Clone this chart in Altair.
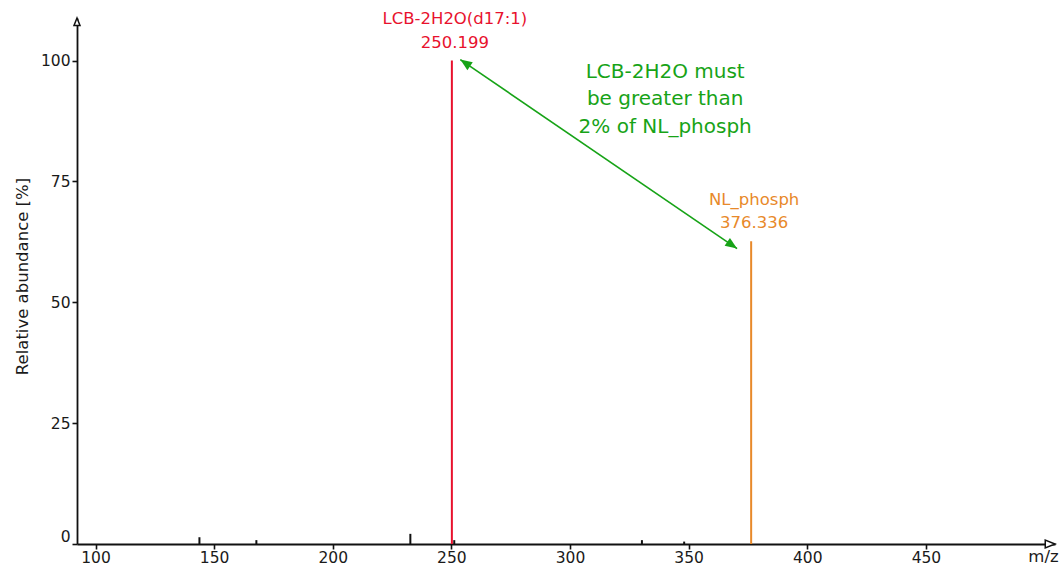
import altair as alt
import pandas as pd

FONT = "DejaVu Sans"

# Fragment peaks (m/z, relative abundance in %)
peak_mz = [143.8, 167.8, 232.7, 250.199, 251.2, 330.3, 348.1, 376.336]
peak_int = [1.4, 0.8, 2.1, 100.0, 0.8, 0.8, 0.5, 62.6]
peak_kind = ["other", "other", "other", "lcb", "other", "other", "other", "nl"]

# Annotated fragments
label_mz = [250.199, 376.336]
label_int = [100.0, 62.6]
label_name = ["LCB-2H2O(d17:1)", "NL_phosph"]
label_kind = ["lcb", "nl"]

kind_domain = ["other", "lcb", "nl"]
kind_colors = ["#111111", "#e8112d", "#e8892a"]

# Rule annotation between the two fragment apexes
rule_start = (253.75, 100.2)
rule_end = (370.4, 61.1)
rule_text = "LCB-2H2O must\nbe greater than\n2% of NL_phosph"
rule_text_pos = (340.1, 97.7)
green = "#17a317"

x_ticks = [100, 150, 200, 250, 300, 350, 400, 450]
y_ticks = [0, 25, 50, 75, 100]
x_domain = [92.2, 504.4]
y_domain = [0, 108.8]

peaks = pd.DataFrame({"mz": peak_mz, "intensity": peak_int, "kind": peak_kind})
labels = pd.DataFrame({
    "mz": label_mz,
    "intensity": label_int,
    "kind": label_kind,
    "name": label_name,
    "value": [f"{m:.3f}" for m in label_mz],
})

x_scale = alt.Scale(domain=x_domain, nice=False, zero=False)
y_scale = alt.Scale(domain=y_domain, nice=False)
color_scale = alt.Scale(domain=kind_domain, range=kind_colors)

x_axis = alt.Axis(
    values=x_ticks, grid=False, title="m/z", labelFlush=False,
    titleX=966, titleY=12, titleAlign="center", titleBaseline="middle",
    labelPadding=1,
)
y_axis = alt.Axis(
    values=y_ticks, grid=False, title="Relative abundance [%]", labelFlush=True,
    titleAngle=270, titleX=-55, titleY=258, titleAlign="center",
    titleBaseline="middle", labelPadding=2,
)

base = alt.Chart(peaks)

sticks = base.mark_rule(strokeWidth=2).encode(
    x=alt.X("mz:Q", scale=x_scale, axis=x_axis),
    y=alt.Y("intensity:Q", scale=y_scale, axis=y_axis),
    y2=alt.datum(0),
    color=alt.Color("kind:N", scale=color_scale, legend=None),
)


def peak_text(field, dy):
    return alt.Chart(labels).mark_text(
        font=FONT, fontSize=16.5, baseline="middle", align="center", dy=dy, dx=3,
    ).encode(
        x=alt.X("mz:Q", scale=x_scale),
        y=alt.Y("intensity:Q", scale=y_scale),
        text=f"{field}:N",
        color=alt.Color("kind:N", scale=color_scale, legend=None),
    )


peak_labels = peak_text("name", -41.5) + peak_text("value", -18)

arrow_df = pd.DataFrame({
    "x": [rule_start[0]], "y": [rule_start[1]],
    "x2": [rule_end[0]], "y2": [rule_end[1]],
})
arrow_line = alt.Chart(arrow_df).mark_rule(color=green, strokeWidth=1.6).encode(
    x=alt.X("x:Q", scale=x_scale),
    y=alt.Y("y:Q", scale=y_scale),
    x2="x2:Q",
    y2="y2:Q",
)

# Arrowhead path with its tip at the origin, pointing up before rotation
head_path = "M0,0 L0.4,1 L-0.4,1 Z"


def head(px, py, angle, size, fill, stroke, stroke_width=0):
    df = pd.DataFrame({"x": [px], "y": [py]})
    return alt.Chart(df).mark_point(
        shape=head_path, size=size, angle=angle, filled=True,
        fill=fill, stroke=stroke, strokeWidth=stroke_width, opacity=1,
    ).encode(
        x=alt.X("x:Q", scale=x_scale),
        y=alt.Y("y:Q", scale=y_scale),
    )


arrow_heads = (
    head(rule_start[0], rule_start[1], 304.3, 560, green, green)
    + head(rule_end[0], rule_end[1], 124.3, 560, green, green)
)

axis_path = "M0,0 L0.4,1 L-0.4,1 Z"


def axis_head(px, py, angle, size):
    df = pd.DataFrame({"x": [px], "y": [py]})
    return alt.Chart(df).mark_point(
        shape=axis_path, size=size, angle=angle, filled=True,
        fill="white", stroke="#111111", strokeWidth=1.5, opacity=1,
    ).encode(
        x=alt.X("x:Q", scale=x_scale),
        y=alt.Y("y:Q", scale=y_scale),
    )


axis_heads = axis_head(x_domain[1], 0, 90, 380) + axis_head(x_domain[0], y_domain[1], 0, 225)

note = alt.Chart(pd.DataFrame({"x": [rule_text_pos[0]], "y": [rule_text_pos[1]],
                               "t": [rule_text]})).mark_text(
    font=FONT, fontSize=20, color=green, align="center", baseline="middle",
    lineBreak="\n", lineHeight=27.5,
).encode(
    x=alt.X("x:Q", scale=x_scale),
    y=alt.Y("y:Q", scale=y_scale),
    text="t:N",
)

chart = (
    alt.layer(sticks, peak_labels, arrow_line, arrow_heads, axis_heads, note)
    .properties(
        width=978, height=526,
        autosize=alt.AutoSizeParams(type="none"),
        padding={"left": 77, "top": 18, "right": 6, "bottom": 22},
        background="white",
    )
    .configure_view(stroke=None)
    .configure_axis(
        domainColor="#111111", domainWidth=1.8,
        tickColor="#111111", tickWidth=1.6, tickSize=5,
        labelFont=FONT, labelFontSize=15.5, labelColor="#1a1a1a",
        titleFont=FONT, titleFontSize=16.5, titleColor="#1a1a1a",
        titleFontWeight="normal",
    )
)

chart.save("out.html", embed_options={"renderer": "svg", "actions": False})
